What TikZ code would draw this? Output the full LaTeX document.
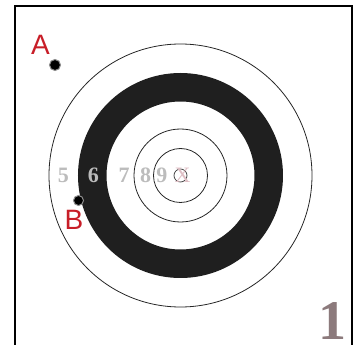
\documentclass[tikz,border=0pt]{standalone}
\usepackage{fontspec}
\newfontfamily\labelfont{Liberation Sans}
\newfontfamily\platefont{Liberation Serif}
\usetikzlibrary{positioning}
\definecolor{hitred}{RGB}{200,30,40}
\definecolor{ringnum}{RGB}{188,188,188}
\definecolor{xpink}{RGB}{222,190,196}
\definecolor{pagenum}{RGB}{140,122,124}
\tikzset{
  ringline/.style={draw=black!85,line width=0.8pt},
  ringnumber/.style={font=\platefont\fontsize{22}{22}\selectfont\bfseries,text=ringnum,inner sep=0pt,anchor=base},
  hitlabel/.style={font=\labelfont\fontsize{28}{28}\selectfont,text=hitred,inner sep=0pt,anchor=base},
  hole/.style={circle,fill=black,draw=black!45,line width=1pt,minimum size=11pt,inner sep=0pt}
}

\begin{document}
\begin{tikzpicture}[x=1pt,y=-1pt]
\useasboundingbox (0,0) rectangle (360,345);
% frame (open at the bottom)
\draw[line width=2pt] (15,345) -- (15,6) -- (352,6) -- (352,345);
% target rings
\coordinate (centre) at (180.5,175.5);
\draw[ringline] (centre) circle (131.5);
\fill[black!88,even odd rule] (centre) circle (102.5) (centre) circle (74);
\draw[ringline] (centre) circle (46.5);
\draw[ringline] (centre) circle (27);
\draw[draw=black!70,line width=0.8pt] (centre) circle (6.5);
% ring numbers
\node[ringnumber] (n5) at (63.5,183) {5};
\node[ringnumber] (n6) at (93.5,183) {6};
\node[ringnumber] (n7) at (124,183) {7};
\node[ringnumber] (n8) at (145.5,183) {8};
\node[ringnumber] (n9) at (162,183) {9};
\node[ringnumber,text=xpink,font=\platefont\fontsize{22}{22}\selectfont] (nx) at (182.5,183) {X};
% hits
\node[hole] (holeA) at (55,65) {};
\node[hitlabel] (labA) at (40.5,55) {A};
\node[hole,minimum size=10pt] (holeB) at (78.5,200.5) {};
\node[hitlabel] (labB) at (74,230) {B};
% plate number
\node[font=\platefont\fontsize{56}{56}\selectfont\bfseries,text=pagenum,inner sep=0pt,anchor=base] (plate) at (332.5,340) {1};
\end{tikzpicture}
\end{document}
